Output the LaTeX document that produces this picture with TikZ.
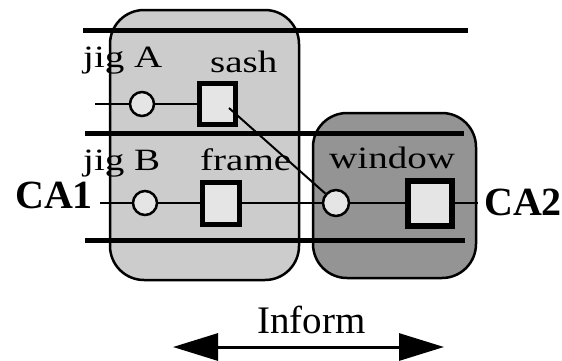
\documentclass[tikz,border=0pt]{standalone}
\usepackage{fontspec}
\setmainfont{Liberation Serif}
\usetikzlibrary{arrows.meta}
\definecolor{leftfill}{gray}{0.80}
\definecolor{rightfill}{gray}{0.58}
\definecolor{boxfill}{gray}{0.90}
\newcommand{\wlab}[1]{\scalebox{1.26}[1]{#1}}
\tikzset{
  lab/.style={anchor=base west, inner sep=0pt, font=\fontsize{31}{31}\selectfont},
  bigbold/.style={anchor=base west, inner sep=0pt, font=\fontsize{40}{40}\selectfont\bfseries},
  region/.style={draw=black, line width=2.5pt, rounded corners=34pt},
  rail/.style={line width=5pt},
  port/.style={circle, draw=black, line width=2.5pt, fill=boxfill, minimum size=24pt, inner sep=0pt},
  part/.style={rectangle, draw=black, line width=5pt, fill=boxfill, inner sep=0pt},
  wire/.style={line width=2pt}
}
\begin{document}
\begin{tikzpicture}[x=1pt,y=-1pt]
\useasboundingbox (0,0) rectangle (562,360);
\fill[white] (0,0) rectangle (562,360);
% regions
\filldraw[region, fill=leftfill] (110,10) rectangle (299,280);
\filldraw[region, fill=rightfill] (313,113) rectangle (476,278);
% rails
\coordinate (r1a) at (83,30);  \coordinate (r1b) at (468,30);
\coordinate (r2a) at (85,133); \coordinate (r2b) at (464,133);
\coordinate (r3a) at (85,240); \coordinate (r3b) at (465,240);
\draw[rail] (r1a) -- (r1b);
\draw[rail] (r2a) -- (r2b);
\draw[rail] (r3a) -- (r3b);
% labels
\node[lab] (ljiga) at (83,67) {\wlab{jig A}};
\node[lab] (lsash) at (210,72) {\wlab{sash}};
\node[lab] (ljigb) at (83,170) {\wlab{jig B}};
\node[lab] (lframe) at (200,170) {\wlab{frame}};
\node[lab] (lwindow) at (329,168) {\wlab{window}};
\node[bigbold] (ca1) at (15,208) {CA1};
\node[bigbold] (ca2) at (484,215) {CA2};
\node[anchor=base west, inner sep=0pt, font=\fontsize{39}{39}\selectfont] (inform) at (257,333) {Inform};
% parts
\node[port] (pa) at (142,104) {};
\node[part, minimum width=36pt, minimum height=41pt] (sash) at (217.5,104) {};
\node[port] (pb) at (145,203) {};
\node[part, minimum width=37pt, minimum height=42pt] (frame) at (221,203) {};
\node[port, minimum size=26pt] (wc) at (336,203) {};
\node[part, line width=6pt, minimum width=44pt, minimum height=45pt] (win) at (430,203) {};
% wires
\coordinate (ina) at (95,104);
\coordinate (inb) at (100,203);
\coordinate (outw) at (478,203);
\coordinate (sd) at (229,108);
\draw[wire] (ina) -- (pa);
\draw[wire] (pa) -- (sash);
\draw[wire] (inb) -- (pb);
\draw[wire] (pb) -- (frame);
\draw[wire] (frame) -- (wc);
\draw[wire] (sd) -- (wc);
\draw[wire] (wc) -- (win);
\draw[wire] (win) -- (outw);
% inform arrow
\coordinate (al) at (173,347);
\coordinate (ar) at (444,347);
\draw[line width=3pt, {Triangle[length=45pt,width=27pt]}-{Triangle[length=45pt,width=27pt]}] (al) -- (ar);
\end{tikzpicture}
\end{document}
